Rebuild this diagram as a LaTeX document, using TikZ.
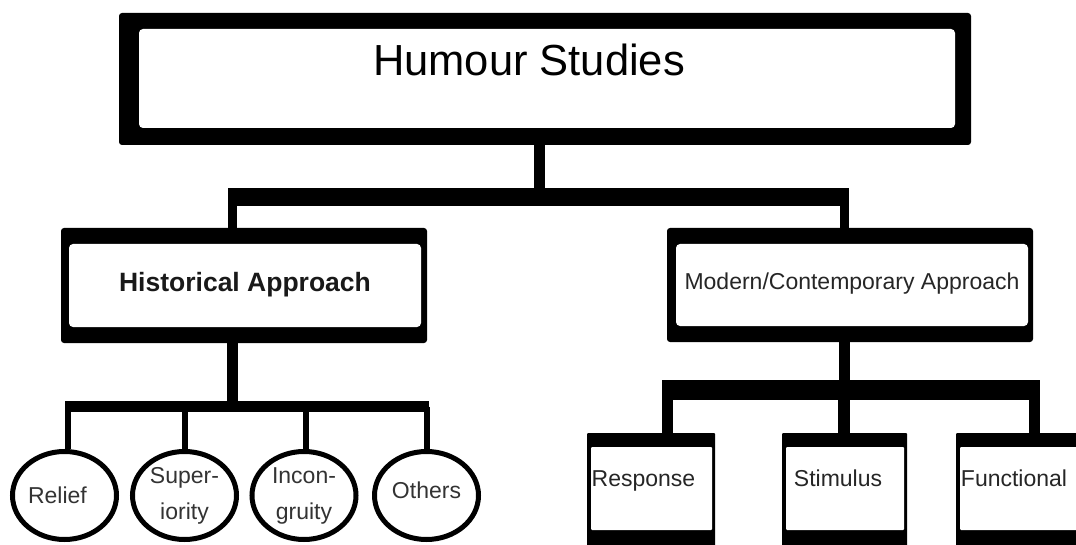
\documentclass[tikz,border=0pt]{standalone}
\usepackage{fontspec}
\setmainfont{Liberation Sans}
\usetikzlibrary{shapes.geometric}
\begin{document}
\begin{tikzpicture}[x=1pt,y=-1pt,
  outerbox/.style={fill=black, inner sep=0pt, outer sep=0pt, rounded corners=3pt},
  innerbox/.style={fill=white, inner sep=0pt, outer sep=0pt, rounded corners=4pt},
  flatouter/.style={fill=black, inner sep=0pt, outer sep=0pt, rounded corners=1pt},
  flatinner/.style={fill=white, inner sep=0pt, outer sep=0pt, rounded corners=1pt},
  lbl/.style={inner sep=0pt, text=black!85, font=\fontsize{23}{28}\selectfont},
  bubble/.style={ellipse, draw=black, line width=5pt, fill=white,
    minimum width=104pt, minimum height=88pt, inner sep=0pt, align=center,
    text=black!80, font=\fontsize{23}{36}\selectfont},
  conn/.style={draw=black, line width=#1}
]
\useasboundingbox (0,0) rectangle (1076,545);
\fill[white] (0,0) rectangle (1076,545);
\clip (0,0) rectangle (1076,545);

% ---- top box
\node[outerbox, minimum width=852pt, minimum height=132pt] (top) at (545,79) {};
\node[innerbox, minimum width=816pt, minimum height=99pt] (topin) at (547,78.5) {};
\node[inner sep=0pt, font=\fontsize{43.5}{50}\selectfont] (toptext) at (529,60) {Humour Studies};

% ---- historical
\node[outerbox, minimum width=366pt, minimum height=115pt] (hist) at (244,285.5) {};
\node[innerbox, minimum width=352pt, minimum height=83pt] (histin) at (245,285.5) {};
\node[inner sep=0pt, anchor=base, text=black!90, font=\bfseries\fontsize{26.5}{30}\selectfont] (histtext) at (245,291) {Historical Approach};

% ---- modern
\node[outerbox, minimum width=366pt, minimum height=114pt] (mod) at (850,285) {};
\node[innerbox, minimum width=352pt, minimum height=82pt] (modin) at (852,285) {};
\node[lbl, anchor=base] (modtext) at (852,290) {Modern/Contemporary Approach};

% ---- ellipses
\node[bubble] (e1) at (64.5,495.5) {Relief\hspace*{14pt}};
\node[bubble] (e2) at (184.5,495.5) {Super-\\iority};
\node[bubble] (e3) at (304,495.5) {Incon-\\gruity};
\node[bubble] (e4) at (426.5,495.5) {Others\\[-26pt]\mbox{}};

% ---- bottom right boxes
\node[flatouter, minimum width=128pt, minimum height=127pt] (resp) at (651,496.5) {};
\node[flatinner, minimum width=121pt, minimum height=83pt] (respin) at (651.5,488.5) {};
\node[lbl, anchor=base] (resptext) at (643.5,486) {Response};

\node[flatouter, minimum width=125pt, minimum height=127pt] (stim) at (844.5,496.5) {};
\node[flatinner, minimum width=118pt, minimum height=83pt] (stimin) at (845,488.5) {};
\node[lbl, anchor=base] (stimtext) at (838,486) {Stimulus};

\node[flatouter, minimum width=134pt, minimum height=127pt] (func) at (1023,496.5) {};
\node[flatinner, minimum width=130pt, minimum height=83pt] (funcin) at (1025,488.5) {};
\node[lbl, anchor=base] (functext) at (1014,486) {Functional};

% ---- connectors: top level
\coordinate (j1) at (539,197);
\coordinate (b1L) at (228,197);
\coordinate (b1R) at (849,197);
\coordinate (dH) at (232.5,197);
\coordinate (dM) at (844.5,197);
\draw[conn=11pt] (top.south -| j1) -- (j1);
\draw[conn=18pt] (b1L) -- (b1R);
\draw[conn=9.5pt] (dH) -- (dH |- hist.north);
\draw[conn=9.5pt] (dM) -- (dM |- mod.north);

% ---- connectors: historical branch
\coordinate (j2) at (232.5,406.5);
\coordinate (b2L) at (65,406.5);
\coordinate (b2R) at (429,406.5);
\draw[conn=11pt] (hist.south -| j2) -- (j2);
\draw[conn=11pt] (b2L) -- (b2R);
\coordinate (d1) at (68,406.5);
\coordinate (d2) at (184.5,406.5);
\coordinate (d3) at (305.5,406.5);
\coordinate (d4) at (426.5,406.5);
\draw[conn=6pt] (d1) -- (d1 |- e1.north);
\draw[conn=6pt] (d2) -- (d2 |- e2.north);
\draw[conn=6pt] (d3) -- (d3 |- e3.north);
\draw[conn=6pt] (d4) -- (d4 |- e4.north);

% ---- connectors: modern branch
\coordinate (j3) at (844.5,390);
\coordinate (b3L) at (662,390);
\coordinate (b3R) at (1040,390);
\draw[conn=11pt] (mod.south -| j3) -- (j3);
\draw[conn=20pt] (b3L) -- (b3R);
\coordinate (r1) at (667.5,390);
\coordinate (r2) at (844,390);
\coordinate (r3) at (1034.5,390);
\draw[conn=11pt] (r1) -- (r1 |- resp.north);
\draw[conn=12pt] (r2) -- (r2 |- stim.north);
\draw[conn=11pt] (r3) -- (r3 |- func.north);
\end{tikzpicture}
\end{document}
